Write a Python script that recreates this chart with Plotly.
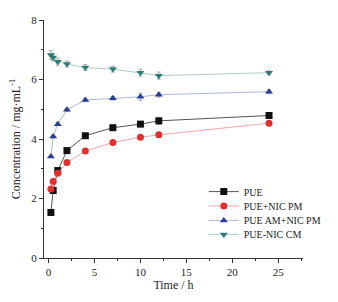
import plotly.graph_objects as go

time_h = [0.25, 0.5, 1, 2, 4, 7, 10, 12, 24]
pue = [1.53, 2.27, 2.94, 3.61, 4.11, 4.38, 4.50, 4.61, 4.79]
pue_nic_pm = [2.32, 2.57, 2.85, 3.21, 3.60, 3.88, 4.06, 4.14, 4.53]
pue_am_nic_pm = [3.41, 4.08, 4.50, 4.98, 5.31, 5.37, 5.42, 5.49, 5.59]
pue_nic_cm = [6.82, 6.74, 6.60, 6.52, 6.40, 6.35, 6.23, 6.13, 6.23]

err_pue = [0.03, 0.03, 0.05, 0.05, 0.05, 0.06, 0.06, 0.12, 0.06]
err_pm = [0.03, 0.03, 0.05, 0.05, 0.05, 0.06, 0.06, 0.06, 0.06]
err_am = [0.03, 0.05, 0.05, 0.05, 0.05, 0.06, 0.12, 0.08, 0.06]
err_cm = [0.15, 0.12, 0.12, 0.10, 0.10, 0.10, 0.12, 0.12, 0.06]

series = [
    ("PUE", pue, err_pue, "#111111", "#555555", "square"),
    ("PUE+NIC PM", pue_nic_pm, err_pm, "#e03030", "#f0a8a8", "circle"),
    ("PUE AM+NIC PM", pue_am_nic_pm, err_am, "#2b3f99", "#aab8d8", "triangle-up"),
    ("PUE-NIC CM", pue_nic_cm, err_cm, "#2a7f72", "#b0ccc8", "triangle-down"),
]

font = "Liberation Serif, Times New Roman, serif"
legend_names = ["legend", "legend2", "legend3", "legend4"]
legend_y = [0.279, 0.219, 0.158, 0.099]

fig = go.Figure()
layout_legends = {}
for i, (name, ys, err, mc, lc, sym) in enumerate(series):
    fig.add_trace(go.Scatter(
        x=time_h, y=ys, name=name, mode="lines+markers",
        line=dict(color=lc, width=1),
        marker=dict(symbol=sym, color=mc, size=7),
        error_y=dict(type="data", array=err, color="#aaaaaa", thickness=1, width=2),
        legend=legend_names[i],
    ))
    layout_legends[legend_names[i]] = dict(
        x=0.617, y=legend_y[i], xanchor="left", yanchor="middle",
        font=dict(family=font, size=10, color="#222"),
        bgcolor="rgba(0,0,0,0)", itemwidth=30,
    )

fig.update_layout(
    width=330, height=294,
    margin=dict(l=36, r=15, t=12, b=44),
    paper_bgcolor="white", plot_bgcolor="white",
    font=dict(family=font, size=11, color="#222"),
    showlegend=True,
    **layout_legends,
)
fig.update_xaxes(
    range=[-0.5, 27.7], tickvals=[0, 5, 10, 15, 20, 25],
    showline=True, linecolor="#333", linewidth=1, mirror=False,
    ticks="outside", ticklen=4, tickcolor="#333", showgrid=False, zeroline=False,
    minor=dict(tickvals=[2.5, 7.5, 12.5, 17.5, 22.5, 27.5], ticks="outside", ticklen=2, tickcolor="#333"),
    title=dict(text="Time / h", font=dict(family=font, size=12), standoff=0),
    tickfont=dict(family=font, size=11), automargin=False,
)
fig.update_yaxes(
    range=[0, 8], tickvals=[0, 2, 4, 6, 8],
    showline=True, linecolor="#333", linewidth=1,
    ticks="outside", ticklen=4, tickcolor="#333", showgrid=False, zeroline=False,
    minor=dict(tickvals=[1, 3, 5, 7], ticks="outside", ticklen=2, tickcolor="#333"),
    title=dict(text="Concentration / mg·mL<sup>-1</sup>", font=dict(family=font, size=12), standoff=9),
    tickfont=dict(family=font, size=11), automargin=False,
)
fig.write_html("out.html")
